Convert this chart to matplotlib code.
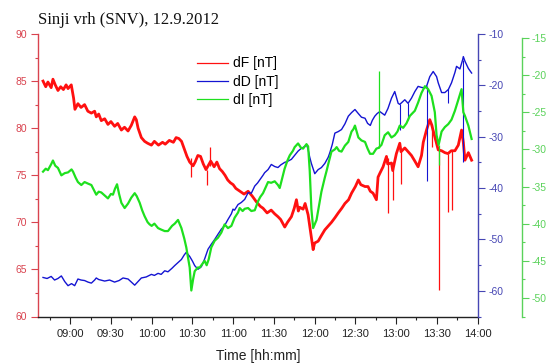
import matplotlib
matplotlib.use('Agg')
import matplotlib.pyplot as plt
from matplotlib.lines import Line2D

plt.rcParams['font.family'] = ['Liberation Sans', 'DejaVu Sans']
plt.rcParams['axes.unicode_minus'] = False

# ---- data (time in minutes after 09:00) ----
time_F = [-20, -18, -16.4, -14, -12.7, -11, -9, -7, -5, -3, -1.6, 0.8, 2.5, 3.5, 5.7, 8, 10.6, 13, 15.6, 18,
          19.2, 21, 22.9, 25.4, 27.8, 30, 32.7, 35, 37.7, 40, 42.6, 45, 47.5, 48.7, 50, 52.4, 54.8, 57, 59.8,
          62, 65, 68, 70, 73, 76, 78, 80, 82, 84, 86, 88, 90.5, 92, 94, 96, 98, 100, 103.5,
          106, 108, 110, 112, 114, 116, 118, 120, 122, 125, 128, 131, 134, 137, 140,
          142, 145, 148, 150.6, 153, 155, 158, 160, 162.9, 165, 166.6, 168, 169, 171.5, 173, 175.2, 177,
          178.9, 180, 182.6, 185, 187.5, 190, 192.4, 195, 197.4, 200, 202.3, 205, 207.2, 210, 212.2, 214,
          217.1, 219.3, 221, 223, 225.5, 226.7, 228, 230.4, 232.9, 233.8, 236.6, 237.5,
          240.2, 242.7, 243.6, 246.4, 248.8, 251.3, 253.8, 256.2, 258.7, 260, 262.4,
          264.8, 266.1, 268.5, 271, 273.5, 275.9, 278.2, 280.6,
          283.3, 285.8, 288.2, 289.5, 290.7, 293.2, 295.6]
dF = [85.0, 84.4, 84.9, 84.3, 85.2, 84.6, 84.0, 84.4, 84.1, 84.6, 84.2, 84.6, 83.2, 82.0, 82.6, 82.2, 82.5, 81.8, 81.6, 81.8,
      81.2, 81.5, 80.8, 81.0, 80.4, 80.7, 80.2, 80.5, 79.8, 80.1, 79.7, 80.3, 81.2, 80.9, 80.0, 79.0, 78.6, 78.4, 78.2,
      78.6, 78.2, 78.5, 78.3, 78.7, 78.5, 79.0, 78.9, 78.6, 77.8, 77.0, 76.4, 76.0, 76.4, 77.1, 77.0, 76.2, 75.6, 76.5,
      75.9, 76.4, 75.7, 75.4, 75.0, 74.5, 74.2, 74.0, 73.6, 73.3, 73.0, 73.3, 72.8, 72.2, 71.7,
      71.5, 71.0, 71.3, 70.9, 70.6, 70.3, 69.5, 70.0, 70.6, 71.5, 72.4, 71.2, 71.6, 71.4, 72.0, 70.8, 69.0,
      67.1, 67.8, 68.0, 68.6, 69.2, 69.6, 70.0, 70.5, 71.0, 71.5, 72.0, 72.4, 73.1, 73.8, 74.5, 74.0,
      73.8, 73.8, 73.3, 73.1, 72.4, 74.8, 75.2, 75.9, 77.0, 76.2, 76.3, 75.5,
      77.3, 78.4, 77.5, 77.9, 77.5, 77.1, 76.5, 75.9, 77.1, 78.5, 79.8,
      80.9, 80.4, 79.1, 77.7, 77.6, 77.4, 77.3, 77.6,
      77.6, 78.2, 79.8, 78.5, 76.6, 77.4, 76.6]
# short spikes in dF: time, value on the curve, spike tip
spike_F_time = [89.2, 101.0, 102.7, 234.1, 237.8, 243.9, 266.3, 271.4, 278.4, 280.8]
spike_F_base = [76.8, 75.6, 76.0, 76.8, 75.8, 77.8, 80.4, 77.7, 77.3, 77.6]
spike_F_tip = [74.8, 74.0, 78.0, 71.0, 72.4, 74.1, 78.0, 62.8, 71.1, 71.3]

time_D = [-20, -17, -14, -11.5, -9, -6.5, -4, -1.6, 1, 3.3, 5.7, 8, 10.6, 13.1, 15.6, 18, 19.2, 21, 25.4, 29,
          32.7, 36, 38.9, 42.6, 45, 47.5, 50, 52.4, 56, 59.8,
          62, 64.7, 67, 69.6, 72, 75, 76.9, 79.4, 81.9, 84, 85.5, 88, 90, 91.7, 94.1, 96.6, 99, 101.5, 104,
          106.4, 108.8, 111.3, 113.7, 116.2, 118.7, 119.9, 121, 123.6, 126, 128.5, 131, 133.4, 135.9, 138, 142,
          143.2, 145.7, 148.1, 150.6, 153, 155, 157.9, 160, 162.9, 165.3, 167.8, 170, 172.7, 174, 175.2, 176.4,
          177.6, 180.1, 182.6, 185, 187.5, 190, 191.2, 193, 194.9, 197.4, 199.8, 202.3, 204.8, 207.2, 209.7,
          212.2, 214.5, 217.1, 219, 221, 222.5,
          224.3, 226, 228, 231.6, 234, 236.6, 239, 241.5, 242.7, 246.4, 248.8, 251.3,
          253.8, 256.2, 258.7, 261.2, 262.4, 264.8, 267.3, 269.8, 271, 273.5, 275.9, 278.5,
          280.8, 283.3, 284.5, 287, 289.0, 289.5, 290.7, 293.2, 295.6]
dD = [-57.4, -57.6, -57.2, -57.9, -57.6, -57.1, -58.2, -59.0, -58.6, -59.0, -57.7, -57.9, -58.0, -58.3, -58.5, -57.9, -57.5, -57.8, -58.1, -57.9,
      -58.3, -58.0, -57.5, -57.7, -58.3, -58.9, -58.2, -57.5, -57.3, -56.8,
      -57.0, -56.6, -56.8, -56.1, -56.3, -55.6, -55.1, -54.5, -53.9, -53.0, -52.5, -53.3, -54.2, -55.1, -55.8, -55.3, -53.8, -51.9, -50.9,
      -50.0, -49.0, -48.0, -47.3, -46.1, -45.0, -44.1, -44.3, -43.2, -42.8, -42.2, -40.9, -41.0, -39.6, -39.0, -37.5,
      -37.0, -36.4, -35.4, -35.8, -36.0, -35.5, -35.0, -34.8, -34.4, -33.6, -32.8, -32.3, -31.9, -31.5, -32.5, -34.0,
      -35.2, -37.2, -36.4, -36.0, -35.2, -34.0, -33.1, -31.5, -29.3, -29.0, -28.6, -27.5, -26.0, -25.3, -24.7,
      -25.5, -26.2, -26.4, -27.4, -27.8, -26.8,
      -26.0, -25.5, -25.1, -25.8, -24.5, -22.5, -21.2, -23.5, -23.7, -22.8, -23.5, -22.5,
      -21.2, -20.2, -20.4, -20.5, -20.2, -18.3, -17.3, -18.3, -19.5, -21.4, -21.4, -20.8,
      -19.5, -17.5, -16.3, -16.8, -15.0, -14.4, -15.3, -16.7, -17.6]
spike_D_time = [242.7, 249.0, 262.4, 278.5, 289.0]
spike_D_base = [-23.7, -23.4, -20.2, -20.8, -15.0]
spike_D_tip = [-28.6, -26.7, -38.6, -23.5, -35.0]

time_I = [-20, -18, -16.4, -14, -12.7, -11, -9, -6.5, -4, -1.6, 1, 2.1, 4, 5.7, 8.2, 10.6, 13, 15.6, 17.5, 19.2,
          21, 22.9, 25.4, 27.8, 30, 31.5, 33, 34.5, 36, 37.7, 40.1, 42.6, 45, 47.5, 49, 51.2, 53, 54.8, 57, 58.5,
          60, 62, 64.7, 67, 69.6, 72, 75, 77, 79.4, 81.9, 84, 85.5, 88, 89.2, 90.5, 91.7, 94, 95.4, 97, 99,
          100.5, 102, 103.9, 106.4, 108.8, 111.3, 113.7, 116.2, 118.7, 121.1, 123.6, 124.8, 127, 128.5, 131,
          133.4, 135.9, 138.3, 140,
          142, 145.7, 148, 150.6, 153, 154.3, 156, 157.9, 160, 161.7, 164, 165.3, 167.8, 170, 171.5, 174, 175.2,
          176.4, 177.6, 178.9, 181.4, 183, 185, 187.5, 188.8, 190, 192.4, 194.9, 196.2, 198, 199.8, 202.3,
          204.8, 207.2, 208.5, 209.7, 212.2, 214.5, 217.1, 219, 220.8,
          223, 225.5, 227.1, 229.2, 231.6, 234.1, 236.6, 239, 241, 242.7, 245.2, 247.6, 250.1,
          253.8, 256.2, 258.7, 261.2, 263.6, 266.1, 268.5, 269.8, 271.3, 273.5, 275.9, 278.4,
          280.8, 283.3, 285.8, 288.2, 289.5, 290.7, 293.2, 295.6]
dI = [-33.0, -32.6, -32.8, -32.0, -31.5, -32.2, -32.5, -33.5, -33.2, -33.1, -32.7, -33.0, -33.8, -34.4, -34.8, -34.4, -34.6, -34.8, -35.5, -36.1,
      -35.7, -35.8, -36.2, -36.6, -36.0, -36.1, -35.3, -34.7, -36.0, -37.2, -37.9, -37.3, -36.5, -35.9, -36.3, -37.2, -38.2, -39.0, -39.8, -40.1,
      -40.3, -40.0, -40.6, -40.8, -41.0, -41.0, -40.3, -40.0, -39.5, -40.6, -42.0, -43.2, -45.9, -49.0, -47.5, -46.4, -45.9, -45.9, -45.5, -45.0,
      -45.6, -44.8, -43.2, -42.3, -41.9, -41.2, -40.1, -40.6, -40.3, -39.2, -38.5, -37.9, -38.3, -38.0, -37.9,
      -38.3, -38.2, -37.0, -36.4,
      -35.9, -34.4, -34.5, -34.3, -34.8, -35.2, -34.0, -32.6, -31.5, -30.8, -30.2, -29.7, -29.2, -29.8, -29.9, -29.3, -29.6,
      -32.9, -38.0, -40.6, -39.5, -37.8, -35.7, -33.8, -32.9, -32.0, -30.3, -30.0, -29.7, -30.2, -30.3, -29.5,
      -29.0, -27.6, -27.3, -26.8, -28.4, -28.8, -29.0, -29.9, -30.6,
      -30.6, -29.9, -29.8, -29.4, -28.1, -27.7, -28.4, -28.1, -27.6, -26.8, -27.1, -26.5, -25.5,
      -24.8, -23.7, -22.4, -21.5, -21.9, -22.8, -25.0, -28.1, -29.4, -27.6, -27.0, -26.6,
      -26.0, -24.8, -23.3, -21.9, -25.0, -25.5, -26.8, -28.6]
spike_I_time = [227.1, 271.3]
spike_I_base = [-29.8, -29.4]
spike_I_tip = [-19.5, -32.1]

x_ticks = [540, 570, 600, 630, 660, 690, 720, 750, 780, 810, 840]
x_labels = ["09:00", "09:30", "10:00", "10:30", "11:00", "11:30", "12:00", "12:30", "13:00", "13:30", "14:00"]
series_labels = ["dF [nT]", "dD [nT]", "dI [nT]"]
title = "Sinji vrh (SNV), 12.9.2012"

# ---- styling ----
RED_LINE, BLUE_LINE, GREEN_LINE = '#ff1010', '#1414d2', '#1ee01e'
RED_AX, BLUE_AX, GREEN_AX = '#d9434f', '#4646b4', '#5ad25a'
W, H = 552, 363

fig = plt.figure(figsize=(W / 100, H / 100), dpi=100)
ax = fig.add_axes([38 / W, 1 - 316.5 / H, 440 / W, 282.5 / H])
axb = ax.twinx()
axg = ax.twinx()

t0 = 540
ax.plot([t0 + m for m in time_F], dF, color=RED_LINE, lw=2.0)
ax.vlines([t0 + m for m in spike_F_time], spike_F_base, spike_F_tip, color=RED_LINE, lw=0.9)
axb.plot([t0 + m for m in time_D], dD, color=BLUE_LINE, lw=1.0)
axb.vlines([t0 + m for m in spike_D_time], spike_D_base, spike_D_tip, color=BLUE_LINE, lw=0.8)
axg.plot([t0 + m for m in time_I], dI, color=GREEN_LINE, lw=1.6)
axg.vlines([t0 + m for m in spike_I_time], spike_I_base, spike_I_tip, color=GREEN_LINE, lw=0.9)

ax.set_xlim(516.3, 840.3)
ax.set_ylim(60, 90)
axb.set_ylim(-64.8, -10)
axg.set_ylim(-52.1, -14.47)

# spines
for s in ['top', 'right']:
    ax.spines[s].set_visible(False)
ax.spines['left'].set_color(RED_AX)
ax.spines['bottom'].set_color('#222222')
for s in ['top', 'left', 'bottom']:
    axb.spines[s].set_visible(False)
    axg.spines[s].set_visible(False)
axb.spines['right'].set_color(BLUE_AX)
axg.spines['right'].set_color(GREEN_AX)
axg.spines['right'].set_position(('axes', 1.099))
axg.spines['right'].set_bounds(-52.6, -15)
for a in (ax, axb, axg):
    for sp in a.spines.values():
        sp.set_linewidth(1.0)

# x ticks
ax.set_xticks(x_ticks)
ax.set_xticklabels(x_labels)
ax.set_xticks(list(range(525, 841, 15)), minor=True)
ax.tick_params(axis='x', which='major', direction='out', length=5, width=0.8, color='#222222',
               labelsize=8, labelcolor='#222222', pad=4)
ax.tick_params(axis='x', which='minor', direction='out', length=2.5, width=0.8, color='#222222')

# red y
ax.set_yticks(list(range(60, 91, 5)))
ax.set_yticks([60 + 2.5 * i for i in range(13)], minor=True)
ax.tick_params(axis='y', which='major', direction='out', length=5, width=0.8, color=RED_AX,
               labelsize=7.5, labelcolor=RED_AX, pad=3)
ax.tick_params(axis='y', which='minor', direction='out', length=2.5, width=0.8, color=RED_AX)

# blue y
axb.set_yticks(list(range(-60, -9, 10)))
axb.set_yticks(list(range(-65, -9, 5)), minor=True)
axb.tick_params(axis='y', which='major', direction='out', length=5, width=0.8, color=BLUE_AX,
                labelsize=7.5, labelcolor=BLUE_AX, pad=2.5)
axb.tick_params(axis='y', which='minor', direction='out', length=2.5, width=0.8, color=BLUE_AX)

# green y
axg.set_yticks(list(range(-50, -14, 5)))
axg.set_yticks([-52.5 + 2.5 * i for i in range(16)], minor=True)
axg.tick_params(axis='y', which='major', direction='out', length=5, width=0.8, color=GREEN_AX,
                labelsize=7.5, labelcolor=GREEN_AX, pad=2.5)
axg.tick_params(axis='y', which='minor', direction='out', length=2.5, width=0.8, color=GREEN_AX)

# legend
handles = [Line2D([], [], color=c, lw=0.9) for c in (RED_LINE, BLUE_LINE, GREEN_LINE)]
axg.legend(handles, series_labels, loc='upper left', bbox_to_anchor=(197 / W, 1 - 56.5 / H),
           bbox_transform=fig.transFigure, frameon=False, fontsize=10, handlelength=2.2,
           handletextpad=0.4, labelspacing=0.3, borderpad=0, borderaxespad=0)

fig.text(38 / W, 1 - 24 / H, title, family=['Liberation Serif', 'DejaVu Serif'], fontsize=12,
         va='baseline', ha='left', color='#111111')
fig.text(258 / W, 1 - 356 / H, 'Time [hh:mm]', ha='center', va='center', fontsize=10, color='#222222')

fig.savefig('out.png', dpi=100)
